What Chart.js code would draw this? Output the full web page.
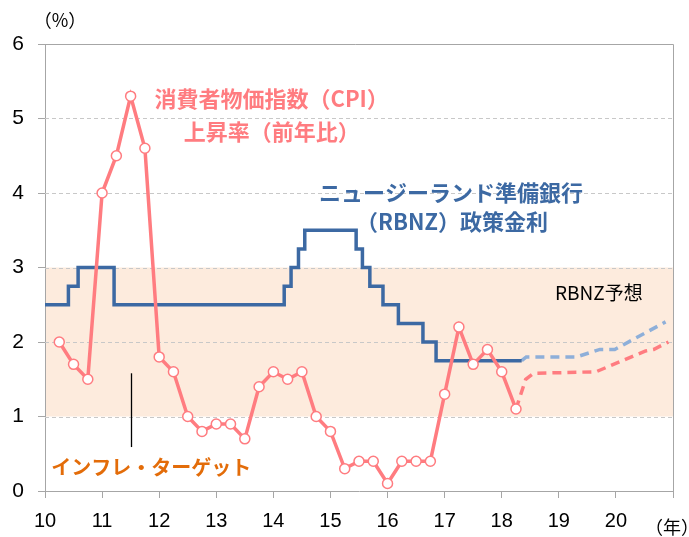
<!DOCTYPE html>
<html>
<head>
<meta charset="utf-8">
<script src="https://cdn.jsdelivr.net/npm/chart.js@4"></script>
<style>
  html, body { margin: 0; padding: 0; background: #fff; }
  #chart { display: block; }
</style>
</head>
<body>
<canvas id="chart" width="689" height="537"></canvas>
<script>
// CPI (year-on-year, %), quarterly, x = year position (10 = 2010)
var cpiX = [10.25, 10.5, 10.75, 11, 11.25, 11.5, 11.75, 12, 12.25, 12.5, 12.75, 13, 13.25, 13.5, 13.75, 14,
  14.25, 14.5, 14.75, 15, 15.25, 15.5, 15.75, 16, 16.25, 16.5, 16.75, 17, 17.25, 17.5, 17.75, 18, 18.25];
var cpiY = [2.0, 1.7, 1.5, 4.0, 4.5, 5.3, 4.6, 1.8, 1.6, 1.0, 0.8, 0.9, 0.9, 0.7, 1.4, 1.6,
  1.5, 1.6, 1.0, 0.8, 0.3, 0.4, 0.4, 0.1, 0.4, 0.4, 0.4, 1.3, 2.2, 1.7, 1.9, 1.6, 1.1];

// RBNZ CPI forecast
var cpiFcX = [18.25, 18.42, 18.56, 19.65, 20.52, 20.66, 20.92];
var cpiFcY = [1.1, 1.5, 1.58, 1.6, 1.88, 1.9, 2.0];

// OCR (policy rate) change points
var ocrX = [10, 10.41, 10.58, 11.21, 14.19, 14.31, 14.44, 14.55, 15.45, 15.56, 15.69, 15.92, 16.19, 16.62, 16.85, 18.35];
var ocrY = [2.5, 2.75, 3.0, 2.5, 2.75, 3.0, 3.25, 3.5, 3.25, 3.0, 2.75, 2.5, 2.25, 2.0, 1.75, 1.75];

// RBNZ OCR forecast
var ocrFcX = [18.35, 18.43, 19.31, 19.72, 19.98, 20.87];
var ocrFcY = [1.75, 1.8, 1.8, 1.9, 1.9, 2.27];

var xTicks = [10, 11, 12, 13, 14, 15, 16, 17, 18, 19, 20];
var targetBand = [1, 3];

function pts(xs, ys) {
  var out = [];
  for (var i = 0; i < xs.length; i++) out.push({ x: xs[i], y: ys[i] });
  return out;
}

var PINK = '#FF7C80';
var BLUE = '#3C69A3';
var LBLUE = '#8EAFD9';
var ORANGE = '#E36C09';
var JP = '"Noto Sans CJK JP", "Noto Sans", sans-serif';
var NUM = '"Liberation Sans", Arial, sans-serif';

var decor = {
  id: 'decor',
  beforeDatasetsDraw: function (chart) {
    var ctx = chart.ctx, a = chart.chartArea;
    var y = chart.scales.y;
    ctx.save();
    // inflation target band
    var t = y.getPixelForValue(targetBand[1]), b = y.getPixelForValue(targetBand[0]);
    ctx.fillStyle = '#FDEBDD';
    ctx.fillRect(a.left + 1, t, a.right - a.left - 1, b - t);
    // dashed gridlines
    ctx.strokeStyle = '#C8C8C8';
    ctx.lineWidth = 1;
    ctx.setLineDash([4, 3]);
    for (var v = 1; v <= 5; v++) {
      var py = Math.round(y.getPixelForValue(v)) + 0.5;
      ctx.beginPath();
      ctx.moveTo(a.left, py);
      ctx.lineTo(a.right, py);
      ctx.stroke();
    }
    // frame top / right
    ctx.setLineDash([]);
    ctx.strokeStyle = '#A6A6A6';
    ctx.beginPath();
    var top = Math.round(y.getPixelForValue(6)) + 0.5;
    ctx.moveTo(a.left - 7, top);
    ctx.lineTo(a.right + 0.5, top);
    ctx.lineTo(a.right + 0.5, a.bottom);
    ctx.stroke();
    ctx.restore();
  },
  afterDatasetsDraw: function (chart) {
    var ctx = chart.ctx;
    var x = chart.scales.x, y = chart.scales.y;
    function txt(s, vx, vy, color, font) {
      ctx.fillStyle = color;
      ctx.font = font;
      ctx.fillText(s, x.getPixelForValue(vx), y.getPixelForValue(vy));
    }
    ctx.save();
    ctx.textAlign = 'center';
    ctx.textBaseline = 'middle';
    txt('消費者物価指数（CPI）', 13.97, 5.27, PINK, 'bold 22px ' + JP);
    txt('上昇率（前年比）', 13.97, 4.83, PINK, 'bold 22px ' + JP);
    txt('ニュージーランド準備銀行', 17.11, 4.01, BLUE, 'bold 22px ' + JP);
    txt('（RBNZ）政策金利', 17.13, 3.61, BLUE, 'bold 22px ' + JP);
    txt('RBNZ予想', 19.7, 2.66, '#000', '19px ' + JP);
    txt('インフレ・ターゲット', 11.86, 0.31, ORANGE, 'bold 20px ' + JP);
    // pointer line to band
    ctx.strokeStyle = '#000';
    ctx.lineWidth = 1.3;
    ctx.beginPath();
    var lx = Math.round(x.getPixelForValue(11.5)) + 0.5;
    ctx.moveTo(lx, y.getPixelForValue(1.58));
    ctx.lineTo(lx, y.getPixelForValue(0.59));
    ctx.stroke();
    // unit labels
    ctx.fillStyle = '#000';
    ctx.font = '18px ' + JP;
    ctx.fillText('（%）', 60, 20);
    ctx.fillText('（年）', 672, 527);
    ctx.restore();
  }
};

new Chart(document.getElementById('chart').getContext('2d'), {
  type: 'line',
  data: {
    datasets: [{
      data: pts(cpiX, cpiY),
      borderColor: PINK,
      borderWidth: 3.5,
      pointRadius: 5,
      pointBackgroundColor: '#fff',
      pointBorderColor: PINK,
      pointBorderWidth: 1.5,
      tension: 0
    }, {
      data: pts(cpiFcX, cpiFcY),
      borderColor: PINK,
      borderWidth: 3.5,
      borderDash: [9, 6],
      pointRadius: 0
    }, {
      data: pts(ocrX, ocrY),
      borderColor: BLUE,
      borderWidth: 3.5,
      stepped: 'before',
      pointRadius: 0
    }, {
      data: pts(ocrFcX, ocrFcY),
      borderColor: LBLUE,
      borderWidth: 3.5,
      borderDash: [9, 6],
      pointRadius: 0
    }]
  },
  options: {
    responsive: false,
    animation: false,
    layout: { padding: { top: 44, right: 16, left: 0, bottom: 0 } },
    plugins: { legend: { display: false }, tooltip: { enabled: false } },
    scales: {
      x: {
        type: 'linear',
        min: 10,
        max: 21,
        afterFit: function (s) { s.height = 46; },
        afterBuildTicks: function (s) {
          s.ticks = xTicks.concat([21]).map(function (v) { return { value: v }; });
        },
        ticks: {
          color: '#000',
          font: { family: NUM, size: 20 },
          padding: 11,
          maxRotation: 0,
          autoSkip: false,
          callback: function (v) { return xTicks.indexOf(v) >= 0 ? String(v) : ''; }
        },
        grid: { drawOnChartArea: false, drawTicks: true, tickLength: 7, color: '#A6A6A6' },
        border: { display: true, color: '#A6A6A6' }
      },
      y: {
        min: 0,
        max: 6,
        afterFit: function (s) { s.width = 45; },
        ticks: {
          stepSize: 1,
          color: '#000',
          font: { family: NUM, size: 21 },
          padding: 14
        },
        grid: { drawOnChartArea: false, drawTicks: true, tickLength: 7, color: '#A6A6A6' },
        border: { display: true, color: '#A6A6A6' }
      }
    }
  },
  plugins: [decor]
});
</script>
</body>
</html>
